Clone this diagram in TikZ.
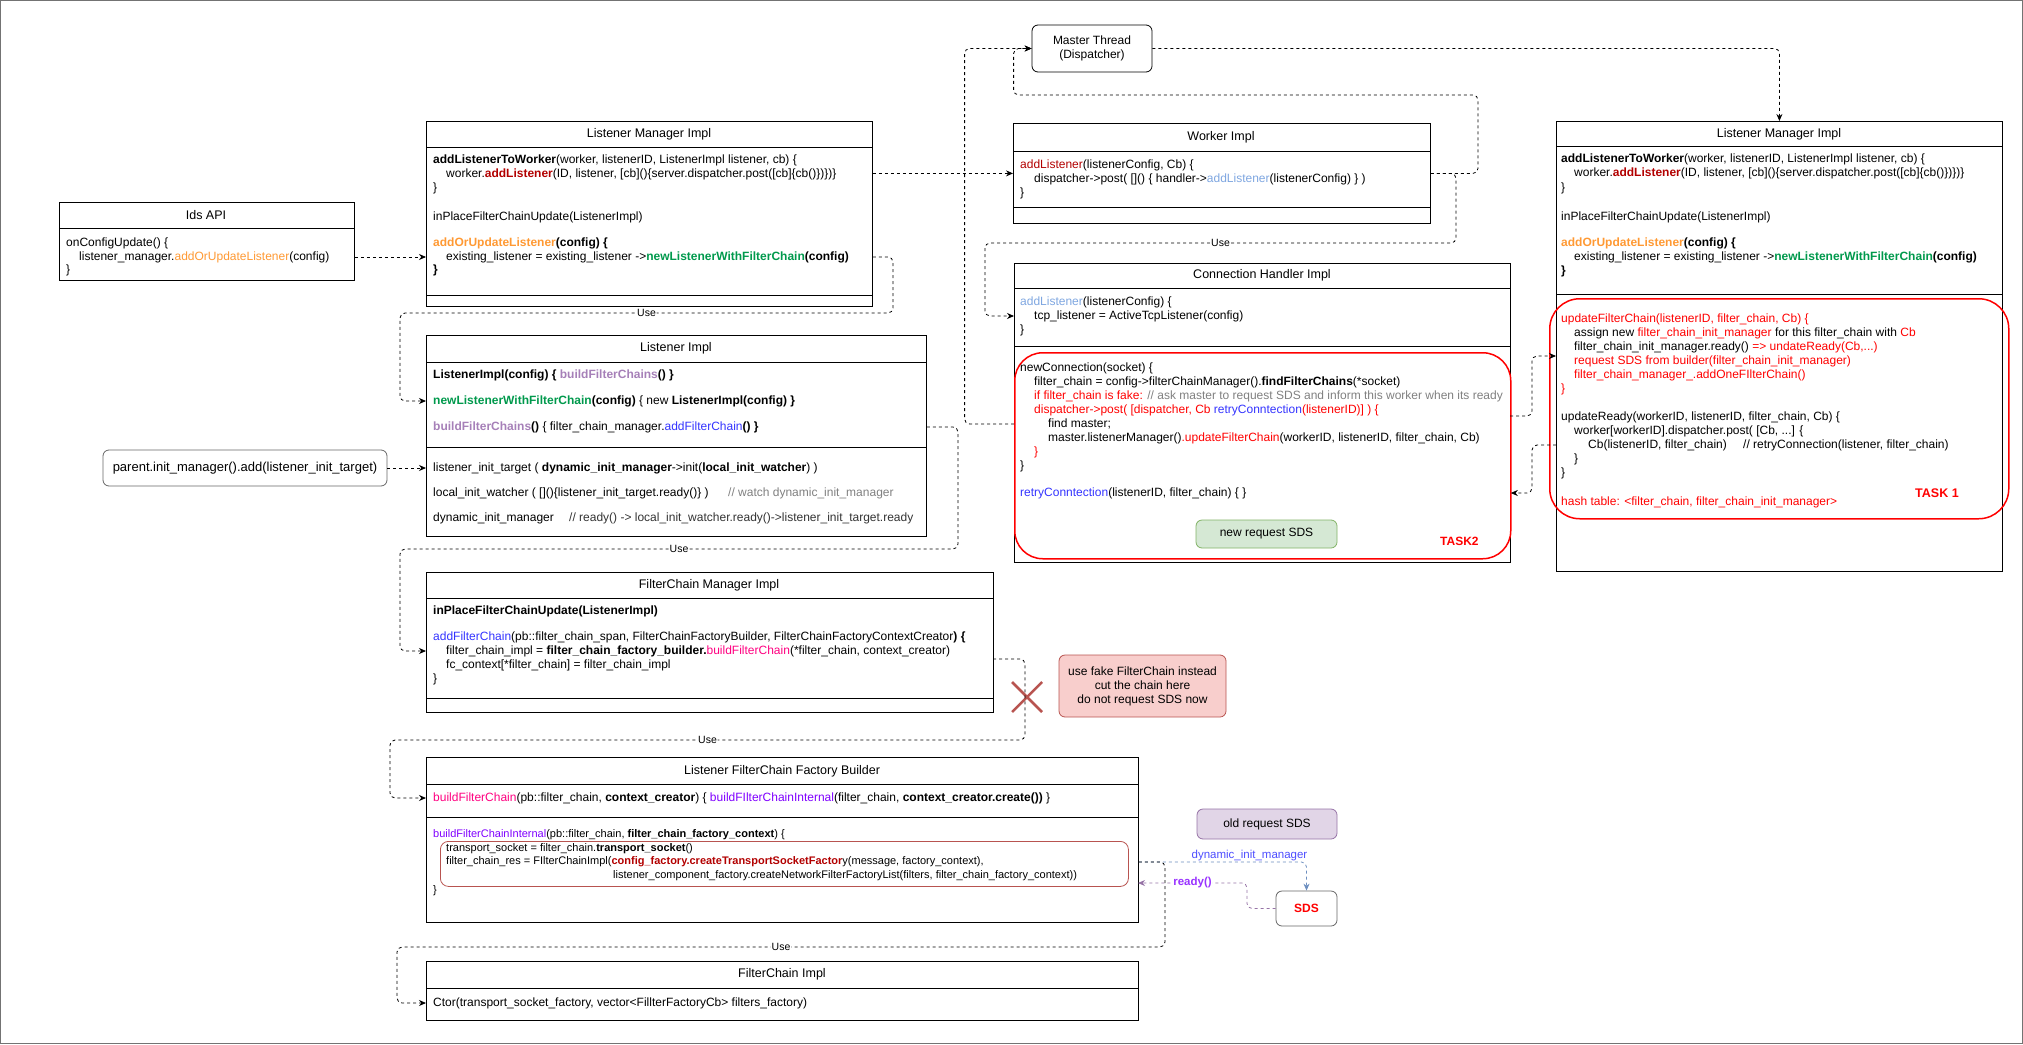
\documentclass[tikz,border=0pt]{standalone}
\usepackage{fontspec}
\setmainfont{Liberation Sans}
\usetikzlibrary{arrows.meta,positioning}

\definecolor{cOrange}{RGB}{255,153,51}
\definecolor{cGreen}{RGB}{0,153,76}
\definecolor{cDark}{RGB}{178,0,0}
\definecolor{cSky}{RGB}{126,166,224}
\definecolor{cLilac}{RGB}{166,128,184}
\definecolor{cBlue}{RGB}{51,51,255}
\definecolor{cPink}{RGB}{255,0,128}
\definecolor{cViolet}{RGB}{127,0,255}
\definecolor{cRed}{RGB}{255,0,0}
\definecolor{cGray}{RGB}{128,128,128}
\definecolor{noteFill}{RGB}{248,206,204}
\definecolor{noteLine}{RGB}{184,84,80}
\definecolor{oldFill}{RGB}{225,213,231}
\definecolor{oldLine}{RGB}{150,115,166}
\definecolor{newFill}{RGB}{213,232,212}
\definecolor{newLine}{RGB}{130,179,102}
\definecolor{dimLine}{RGB}{108,142,191}
\definecolor{dimText}{RGB}{77,77,255}
\definecolor{rdyText}{RGB}{153,51,255}

\tikzset{
  cls/.style={draw, line width=0.8pt, anchor=north west, inner sep=0},
  ttl/.style={inner sep=0, font=\fontsize{12.5}{14}\selectfont},
  ln/.style={anchor=west, inner sep=0, font=\fontsize{12}{14}\selectfont},
  lnsm/.style={ln, font=\fontsize{11}{13}\selectfont},
  rbox/.style={draw=black!60, line width=0.8pt, rounded corners=6pt, align=center, font=\fontsize{12}{14}\selectfont},
  task/.style={draw=cRed, line width=1.5pt, rounded corners=28pt, anchor=north west, inner sep=0},
  use/.style={draw, line width=0.8pt, dash pattern=on 3pt off 3pt, rounded corners=5pt, -{Stealth[length=7pt,width=6pt]}},
  dimarrow/.style={use, draw=dimLine, -{Stealth[length=7pt,width=6pt,fill=dimLine]}},
  rdyarrow/.style={use, draw=oldLine, -{Stealth[length=7pt,width=6pt,fill=oldLine]}},
  lbl/.style={fill=white, inner sep=1pt, font=\fontsize{10.5}{12}\selectfont},
}

\begin{document}
\begin{tikzpicture}[x=1pt,y=-1pt]
  \useasboundingbox (0,0) rectangle (2023,1044);
  \draw[black!55] (0.5,0.5) rectangle (2022.5,1043.5);

  % class boxes
  \node[cls, minimum width=295, minimum height=78] (ids) at (59,202) {};
  \draw[line width=0.8pt] (59,228) -- (354,228);
  \node[cls, minimum width=446, minimum height=185] (lmiA) at (426,121) {};
  \draw[line width=0.8pt] (426,147) -- (872,147) (426,295) -- (872,295);
  \node[cls, minimum width=500, minimum height=201] (li) at (426,335) {};
  \draw[line width=0.8pt] (426,362) -- (926,362) (426,447) -- (926,447);
  \node[cls, minimum width=567, minimum height=140] (fcm) at (426,572) {};
  \draw[line width=0.8pt] (426,598) -- (993,598) (426,698) -- (993,698);
  \node[cls, minimum width=712, minimum height=165] (fcb) at (426,757) {};
  \draw[line width=0.8pt] (426,784) -- (1138,784) (426,817) -- (1138,817);
  \node[cls, minimum width=712, minimum height=59] (fci) at (426,961) {};
  \draw[line width=0.8pt] (426,988) -- (1138,988);
  \node[cls, minimum width=417, minimum height=100] (wrk) at (1013,123) {};
  \draw[line width=0.8pt] (1013,151) -- (1430,151) (1013,207) -- (1430,207);
  \node[cls, minimum width=496, minimum height=299] (chi) at (1014,263) {};
  \draw[line width=0.8pt] (1014,288) -- (1510,288) (1014,346) -- (1510,346);
  \node[cls, minimum width=446, minimum height=450] (lmiB) at (1556,121) {};
  \draw[line width=0.8pt] (1556,146) -- (2002,146) (1556,294) -- (2002,294);

  % titles
  \node[ttl] (idsT) at (206,215) {Ids API};
  \node[ttl] (lmiAT) at (649,134) {Listener Manager Impl};
  \node[ttl] (liT) at (676,348) {Listener Impl};
  \node[ttl] (fcmT) at (709,585) {FilterChain Manager Impl};
  \node[ttl] (fcbT) at (782,771) {Listener FilterChain Factory Builder};
  \node[ttl] (fciT) at (782,974) {FilterChain Impl};
  \node[ttl] (wrkT) at (1221,137) {Worker Impl};
  \node[ttl] (chiT) at (1262,275) {Connection Handler Impl};
  \node[ttl] (lmiBT) at (1779,134) {Listener Manager Impl};

  % Ids API
  \node[ln] (ids1) at (66,243) {onConfigUpdate() \{};
  \node[ln] (ids2) at (79,257) {listener\_manager.\textcolor{cOrange}{addOrUpdateListener}(config)};
  \node[ln] (ids3) at (66,270) {\}};

  % Listener Manager Impl (left)
  \node[ln] (lmiA1) at (433,160) {\textbf{addListenerToWorker}(worker, listenerID, ListenerImpl listener, cb) \{};
  \node[ln] (lmiA2) at (446,174) {worker.\textbf{\textcolor{cDark}{addListener}}(ID, listener, [cb]()\{server.dispatcher.post([cb]\{cb()\})\})\}};
  \node[ln] (lmiA3) at (433,188) {\}};
  \node[ln] (lmiA4) at (433,217) {inPlaceFilterChainUpdate(ListenerImpl)};
  \node[ln] (lmiA5) at (433,243) {\textbf{\textcolor{cOrange}{addOrUpdateListener}(config) \{}};
  \node[ln] (lmiA6) at (446,257) {existing\_listener = existing\_listener ->\textbf{\textcolor{cGreen}{newListenerWithFilterChain}(config)}};
  \node[ln] (lmiA7) at (433,270) {\textbf{\}}};

  % Listener Impl
  \node[ln] (li1) at (433,375) {\textbf{ListenerImpl(config) \{ \textcolor{cLilac}{buildFilterChains}() \}}};
  \node[ln] (li2) at (433,401) {\textbf{\textcolor{cGreen}{newListenerWithFilterChain}(config)} \{ new \textbf{ListenerImpl(config) \}}};
  \node[ln] (li3) at (433,427) {\textbf{\textcolor{cLilac}{buildFilterChains}()} \{ filter\_chain\_manager.\textcolor{cBlue}{addFilterChain}\textbf{() \}}};
  \node[ln] (li4) at (433,468) {listener\_init\_target ( \textbf{dynamic\_init\_manager}->init(\textbf{local\_init\_watcher}) )};
  \node[ln] (li5) at (433,493) {local\_init\_watcher ( []()\{listener\_init\_target.ready()\} )};
  \node[ln, text=cGray] (li5c) at (728,493) {// watch dynamic\_init\_manager};
  \node[ln] (li6) at (433,518) {dynamic\_init\_manager};
  \node[ln, text=black!80] (li6c) at (569,518) {// ready() -> local\_init\_watcher.ready()->listener\_init\_target.ready};

  \node[rbox, minimum width=284, minimum height=36, font=\fontsize{13}{15}\selectfont] (parent) at (245,468) {parent.init\_manager().add(listener\_init\_target)};

  % FilterChain Manager Impl
  \node[ln] (fcm1) at (433,611) {\textbf{inPlaceFilterChainUpdate(ListenerImpl)}};
  \node[ln] (fcm2) at (433,637) {\textcolor{cBlue}{addFilterChain}(pb::filter\_chain\_span, FilterChainFactoryBuilder, FilterChainFactoryContextCreator\textbf{) \{}};
  \node[ln] (fcm3) at (446,651) {filter\_chain\_impl = \textbf{filter\_chain\_factory\_builder.}\textcolor{cPink}{buildFilterChain}(*filter\_chain, context\_creator)};
  \node[ln] (fcm4) at (446,665) {fc\_context[*filter\_chain] = filter\_chain\_impl};
  \node[ln] (fcm5) at (433,679) {\}};
  \coordinate (fcmOut) at (993,659);

  \node[rbox, draw=noteLine, fill=noteFill, minimum width=167, minimum height=62] (fakeNote) at (1142.5,686) {use fake FilterChain instead\\cut the chain here\\do not request SDS now};
  \draw[noteLine, line width=2.5pt] (1012,682) -- (1042,712) (1012,712) -- (1042,682);

  % Listener FilterChain Factory Builder
  \node[ln] (fcb1) at (433,798) {\textcolor{cPink}{buildFilterChain}(pb::filter\_chain, \textbf{context\_creator}) \{ \textcolor{cViolet}{buildFIlterChainInternal}(filter\_chain, \textbf{context\_creator.create())} \}};
  \node[lnsm] (fcb2) at (433,835) {\textcolor{cViolet}{buildFilterChainInternal}(pb::filter\_chain, \textbf{filter\_chain\_factory\_context}) \{};
  \node[cls, draw=noteLine, rounded corners=8pt, minimum width=688, minimum height=45] (fcbRes) at (440,841) {};
  \node[lnsm] (fcb3) at (446,849) {transport\_socket = filter\_chain.\textbf{transport\_socket}()};
  \node[lnsm] (fcb4) at (446,862) {filter\_chain\_res = FIlterChainImpl(\textbf{\textcolor{cDark}{config\_factory.createTransportSocketFactor}}y(message, factory\_context),};
  \node[lnsm] (fcb5) at (613,876) {listener\_component\_factory.createNetworkFilterFactoryList(filters, filter\_chain\_factory\_context))};
  \node[lnsm] (fcb6) at (433,891) {\}};
  \coordinate (rdyIn) at (1138,883);

  \node[rbox, draw=oldLine, fill=oldFill, minimum width=140, minimum height=30] (oldSds) at (1267,824) {old request SDS};
  \node[rbox, minimum width=61, minimum height=35, text=cRed, font=\fontsize{12}{14}\selectfont\bfseries] (sds) at (1306.5,908.5) {SDS};

  % FilterChain Impl
  \node[ln] (fci1) at (433,1003) {Ctor(transport\_socket\_factory, vector<FillterFactoryCb> filters\_factory)};

  % Master Thread and Worker Impl
  \node[rbox, draw=black, minimum width=120, minimum height=47] (master) at (1092,48.5) {Master Thread\\(Dispatcher)};
  \node[ln] (wrk1) at (1020,165) {\textcolor{cDark}{addListener}(listenerConfig, Cb) \{};
  \node[ln] (wrk2) at (1034,179) {dispatcher->post( []() \{ handler->\textcolor{cSky}{addListener}(listenerConfig) \} )};
  \node[ln] (wrk3) at (1020,193) {\}};

  % Connection Handler Impl
  \node[ln] (chi1) at (1020,302) {\textcolor{cSky}{addListener}(listenerConfig) \{};
  \node[ln] (chi2) at (1034,316) {tcp\_listener = ActiveTcpListener(config)};
  \node[ln] (chi3) at (1020,330) {\}};
  \node[task, minimum width=496, minimum height=206] (task2) at (1014,352) {};
  \node[ln] (chi4) at (1020,368) {newConnection(socket) \{};
  \node[ln] (chi5) at (1034,382) {filter\_chain = config->filterChainManager().\textbf{findFilterChains}(*socket)};
  \node[ln] (chi6) at (1034,396) {\textcolor{cRed}{if filter\_chain is fake:} \textcolor{cGray}{// ask master to request SDS and inform this worker when its ready}};
  \node[ln, text=cRed] (chi7) at (1034,410) {dispatcher->post( [dispatcher, Cb \textcolor{cBlue}{retryConntection}(listenerID)] ) \{};
  \node[ln] (chi8) at (1048,424) {find master;};
  \node[ln] (chi9) at (1048,438) {master.listenerManager()\textcolor{cRed}{.updateFilterChain}(workerID, listenerID, filter\_chain, Cb)};
  \node[ln, text=cRed] (chi10) at (1034,452) {\}};
  \node[ln] (chi11) at (1020,466) {\}};
  \node[ln] (chi12) at (1020,493) {\textcolor{cBlue}{retryConntection}(listenerID, filter\_chain) \{ \}};
  \node[rbox, draw=newLine, fill=newFill, minimum width=141, minimum height=28] (newSds) at (1266.5,534) {new request SDS};
  \node[ln, text=cRed, font=\fontsize{12}{14}\selectfont\bfseries] (task2L) at (1440,541) {TASK2};
  \coordinate (t2Out) at (1510,416);

  % Listener Manager Impl (right)
  \node[ln] (lmiB1) at (1561,159) {\textbf{addListenerToWorker}(worker, listenerID, ListenerImpl listener, cb) \{};
  \node[ln] (lmiB2) at (1574,173) {worker.\textbf{\textcolor{cDark}{addListener}}(ID, listener, [cb]()\{server.dispatcher.post([cb]\{cb()\})\})\}};
  \node[ln] (lmiB3) at (1561,188) {\}};
  \node[ln] (lmiB4) at (1561,217) {inPlaceFilterChainUpdate(ListenerImpl)};
  \node[ln] (lmiB5) at (1561,243) {\textbf{\textcolor{cOrange}{addOrUpdateListener}(config) \{}};
  \node[ln] (lmiB6) at (1574,257) {existing\_listener = existing\_listener ->\textbf{\textcolor{cGreen}{newListenerWithFilterChain}(config)}};
  \node[ln] (lmiB7) at (1561,271) {\textbf{\}}};
  \node[task, rounded corners=30pt, minimum width=459, minimum height=220] (task1) at (1549,298) {};
  \node[ln, text=cRed] (upd1) at (1561,319) {updateFilterChain(listenerID, filter\_chain, Cb) \{};
  \node[ln] (upd2) at (1574,333) {assign new \textcolor{cRed}{filter\_chain\_init\_manager} for this filter\_chain with \textcolor{cRed}{Cb}};
  \node[ln] (upd3) at (1574,347) {filter\_chain\_init\_manager.ready() \textcolor{cRed}{=> undateReady(Cb,...)}};
  \node[ln, text=cRed] (upd4) at (1574,361) {request SDS from builder(filter\_chain\_init\_manager)};
  \node[ln, text=cRed] (upd5) at (1574,375) {filter\_chain\_manager\_.addOneFIlterChain()};
  \node[ln, text=cRed] (upd6) at (1561,389) {\}};
  \node[ln] (rdy1) at (1561,417) {updateReady(workerID, listenerID, filter\_chain, Cb) \{};
  \node[ln] (rdy2) at (1574,431) {worker[workerID].dispatcher.post( [Cb, ...] \{};
  \node[ln] (rdy3) at (1588,445) {Cb(listenerID, filter\_chain)};
  \node[ln] (rdy3c) at (1743,445) {// retryConnection(listener, filter\_chain)};
  \node[ln] (rdy4) at (1574,459) {\}};
  \node[ln] (rdy5) at (1561,473) {\}};
  \node[ln, text=cRed] (hash) at (1561,502) {hash table: <filter\_chain, filter\_chain\_init\_manager>};
  \node[ln, text=cRed, font=\fontsize{12.5}{14}\selectfont\bfseries] (task1L) at (1915,493) {TASK 1};
  \coordinate (t1In) at (1556,356);

  % connectors
  \draw[use] (lmiA6 -| ids.east) -- (lmiA6 -| lmiA.west);
  \draw[use] (wrk.west -| lmiA.east) -- (wrk.west);
  \draw[use] (lmiA6 -| lmiA.east) -| (893,313) -- node[lbl]{Use} (400,313) |- (li2 -| li.west);
  \draw[use] (parent.east) -- (parent.east -| li.west);
  \draw[use] (li3 -| li.east) -| (958,549) -- node[lbl]{Use} (400,549) |- (fcm3 -| fcm.west);
  \draw[use] (fcmOut) -| (1025,740) -- node[lbl]{Use} (390,740) |- (fcb1 -| fcb.west);
  \draw[dimarrow] (fcb4 -| fcb.east) -| node[pos=0.33, above=1pt, inner sep=0, text=dimText, font=\fontsize{11.5}{13}\selectfont] (dimLbl) {dynamic\_init\_manager} (sds.north);
  \draw[rdyarrow] (sds.west) -| (1247,883) -- node[lbl, text=rdyText, font=\fontsize{11.5}{13}\selectfont\bfseries] (rdyLbl) {ready()} (rdyIn);
  \draw[use] (fcb4 -| fcb.east) -| (1165,947) -- node[lbl]{Use} (397,947) |- (fci1 -| fci.west);
  \draw[use] (wrk.east) -| (1478,95) -| ([xshift=-18pt]master.west) -- (master.west);
  \draw[use] (chi8 -| chi.west) -| ([xshift=-67pt]master.west) -- (master.west);
  \draw[use] (master.east) -| (lmiB.north);
  \draw[use] (wrk.east) -| (1456,243) -- node[lbl]{Use} (985,243) |- (chi2 -| chi.west);
  \draw[use] (t2Out) -| (1532,356) -- (t1In);
  \draw[use] (rdy3 -| lmiB.west) -| (1532,493) -- (chi12 -| chi.east);
\end{tikzpicture}
\end{document}
